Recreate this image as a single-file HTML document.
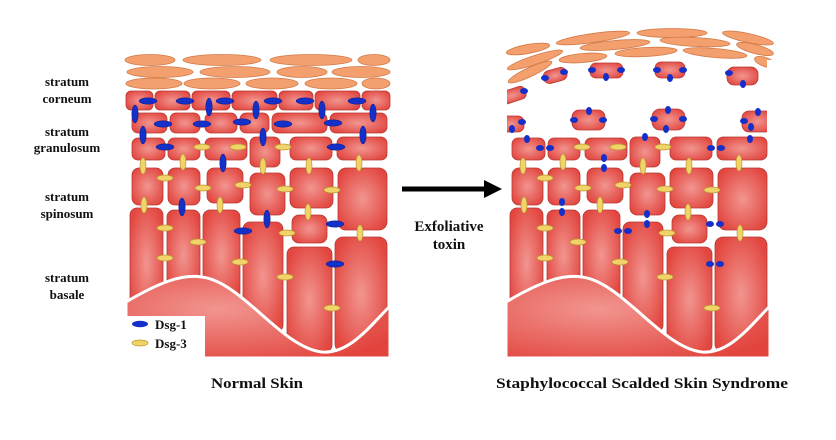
<!DOCTYPE html>
<html><head><meta charset="utf-8"><style>
html,body{margin:0;padding:0;background:#fff;width:836px;height:440px;overflow:hidden}
svg{display:block}
text{font-family:"Liberation Serif",serif;font-weight:bold;fill:#111}
</style></head><body>
<svg width="836" height="440" viewBox="0 0 836 440" xmlns="http://www.w3.org/2000/svg">
<defs>
<radialGradient id="cg" cx="50%" cy="50%" r="60%">
<stop offset="0" stop-color="#f29590"/><stop offset="1" stop-color="#e2463f"/></radialGradient>
<radialGradient id="bg" cx="35%" cy="40%" r="75%">
<stop offset="0" stop-color="#f29590"/><stop offset="1" stop-color="#e2443d"/></radialGradient>
<g id="lower" stroke="#b83a34" stroke-width="0.8" fill="url(#cg)">
<rect x="132" y="138" width="33" height="22" rx="6"/>
<rect x="168" y="138" width="32" height="22" rx="6"/>
<rect x="205" y="138" width="42" height="22" rx="6"/>
<rect x="250" y="137" width="30" height="30" rx="6"/>
<rect x="290" y="137" width="42" height="23" rx="6"/>
<rect x="337" y="137" width="50" height="23" rx="6"/>
<rect x="132" y="168" width="31" height="37" rx="7"/>
<rect x="168" y="168" width="32" height="37" rx="7"/>
<rect x="207" y="168" width="36" height="35" rx="7"/>
<rect x="250" y="173" width="35" height="42" rx="7"/>
<rect x="290" y="168" width="43" height="40" rx="7"/>
<rect x="338" y="168" width="49" height="62" rx="8"/>
<rect x="292" y="215" width="35" height="28" rx="7"/>
<rect x="130" y="208" width="33" height="110" rx="7"/>
<rect x="167" y="210" width="33" height="90" rx="7"/>
<rect x="203" y="210" width="37" height="90" rx="7"/>
<rect x="243" y="222" width="40" height="110" rx="7"/>
<rect x="287" y="247" width="45" height="105" rx="7"/>
<rect x="335" y="237" width="52" height="115" rx="8"/>
<path d="M126,302 C160,282 182,274 202,277 C242,282 282,348 322,352 C350,354 370,326 390,306 L390,358 L126,358 Z" fill="url(#bg)" stroke="#fff" stroke-width="3"/>
</g>
<g id="yel" fill="#f2d36a" stroke="#b89a30" stroke-width="0.7">
<ellipse cx="202" cy="147" rx="8" ry="3"/><ellipse cx="238" cy="147" rx="8" ry="3"/><ellipse cx="283" cy="147" rx="8" ry="3"/>
<ellipse cx="165" cy="178" rx="8" ry="3"/><ellipse cx="203" cy="188" rx="8" ry="3"/><ellipse cx="243" cy="185" rx="8" ry="3"/>
<ellipse cx="285" cy="189" rx="8" ry="3"/><ellipse cx="332" cy="190" rx="8" ry="3"/><ellipse cx="165" cy="228" rx="8" ry="3"/>
<ellipse cx="198" cy="242" rx="8" ry="3"/><ellipse cx="165" cy="258" rx="8" ry="3"/><ellipse cx="240" cy="262" rx="8" ry="3"/>
<ellipse cx="287" cy="233" rx="8" ry="3"/><ellipse cx="285" cy="277" rx="8" ry="3"/><ellipse cx="332" cy="308" rx="8" ry="3"/>
<ellipse cx="143" cy="166" rx="3" ry="8"/><ellipse cx="183" cy="162" rx="3" ry="8"/><ellipse cx="263" cy="166" rx="3" ry="8"/>
<ellipse cx="309" cy="166" rx="3" ry="8"/><ellipse cx="359" cy="163" rx="3" ry="8"/><ellipse cx="144" cy="205" rx="3" ry="8"/>
<ellipse cx="220" cy="205" rx="3" ry="8"/><ellipse cx="308" cy="212" rx="3" ry="8"/><ellipse cx="360" cy="233" rx="3" ry="8"/>
</g>
</defs>

<g fill="#f3a06e" stroke="#d27a48" stroke-width="0.8">
<ellipse cx="150" cy="60" rx="25" ry="5.5"/><ellipse cx="222" cy="60" rx="39" ry="5.5"/><ellipse cx="311" cy="60" rx="41" ry="5.5"/><ellipse cx="374" cy="60" rx="16" ry="5.5"/>
<ellipse cx="160" cy="72" rx="33" ry="5.5"/><ellipse cx="235" cy="72" rx="35" ry="5.5"/><ellipse cx="302" cy="72" rx="25" ry="5.5"/><ellipse cx="361" cy="72" rx="29" ry="5.5"/>
<ellipse cx="154" cy="83.5" rx="28" ry="5.5"/><ellipse cx="212" cy="83.5" rx="28" ry="5.5"/><ellipse cx="272" cy="83.5" rx="26" ry="5.5"/><ellipse cx="331" cy="83.5" rx="26" ry="5.5"/><ellipse cx="376" cy="83.5" rx="14" ry="5.5"/>
</g>
<g stroke="#b83a34" stroke-width="0.8" fill="url(#cg)">
<rect x="126" y="91" width="27" height="19" rx="5"/><rect x="155" y="91" width="35" height="19" rx="5"/><rect x="192" y="91" width="38" height="19" rx="5"/>
<rect x="232" y="91" width="45" height="19" rx="5"/><rect x="279" y="91" width="34" height="19" rx="5"/><rect x="315" y="91" width="45" height="19" rx="5"/><rect x="362" y="91" width="28" height="19" rx="5"/>
<rect x="132" y="113" width="35" height="20" rx="6"/><rect x="170" y="113" width="30" height="20" rx="6"/><rect x="205" y="113" width="32" height="20" rx="6"/>
<rect x="240" y="113" width="29" height="20" rx="6"/><rect x="272" y="113" width="55" height="20" rx="6"/><rect x="330" y="113" width="57" height="20" rx="6"/>
</g>
<use href="#lower"/>
<use href="#yel"/>
<g fill="#1430c8" stroke="#0a1a80" stroke-width="0.5">
<ellipse cx="148" cy="101" rx="9" ry="3.2"/><ellipse cx="185" cy="101" rx="9" ry="3.2"/><ellipse cx="225" cy="101" rx="9" ry="3.2"/>
<ellipse cx="273" cy="101" rx="9" ry="3.2"/><ellipse cx="305" cy="101" rx="9" ry="3.2"/><ellipse cx="357" cy="101" rx="9" ry="3.2"/>
<ellipse cx="163" cy="124" rx="9" ry="3.2"/><ellipse cx="202" cy="124" rx="9" ry="3.2"/><ellipse cx="242" cy="122" rx="9" ry="3.2"/>
<ellipse cx="283" cy="124" rx="9" ry="3.2"/><ellipse cx="333" cy="123" rx="9" ry="3.2"/><ellipse cx="165" cy="147" rx="9" ry="3.2"/>
<ellipse cx="336" cy="147" rx="9" ry="3.2"/><ellipse cx="243" cy="231" rx="9" ry="3.2"/><ellipse cx="335" cy="224" rx="9" ry="3.2"/><ellipse cx="335" cy="264" rx="9" ry="3.2"/>
<ellipse cx="135" cy="114" rx="3.2" ry="9"/><ellipse cx="209" cy="107" rx="3.2" ry="9"/><ellipse cx="256" cy="110" rx="3.2" ry="9"/>
<ellipse cx="322" cy="110" rx="3.2" ry="9"/><ellipse cx="373" cy="113" rx="3.2" ry="9"/><ellipse cx="143" cy="135" rx="3.2" ry="9"/>
<ellipse cx="263" cy="137" rx="3.2" ry="9"/><ellipse cx="363" cy="135" rx="3.2" ry="9"/><ellipse cx="223" cy="163" rx="3.2" ry="9"/>
<ellipse cx="182" cy="207" rx="3.2" ry="9"/><ellipse cx="267" cy="219" rx="3.2" ry="9"/>
</g>
<rect x="126" y="316" width="79" height="44" fill="#fff"/>
<ellipse cx="140" cy="324" rx="8" ry="3.2" fill="#1430c8"/>
<ellipse cx="140" cy="343" rx="8" ry="3" fill="#f2d36a" stroke="#b89a30" stroke-width="0.7"/>
<text x="155" y="329" font-size="13">Dsg-1</text>
<text x="155" y="348" font-size="13">Dsg-3</text>

<g fill="#f3a06e" stroke="#d27a48" stroke-width="0.8">
<ellipse cx="593" cy="38" rx="37" ry="4.5" transform="rotate(-8 593 38)"/>
<ellipse cx="672" cy="33" rx="35" ry="4.5"/>
<ellipse cx="748" cy="38" rx="26" ry="4.5" transform="rotate(12 748 38)"/>
<ellipse cx="528" cy="49" rx="22" ry="4.5" transform="rotate(-10 528 49)"/>
<ellipse cx="615" cy="45" rx="35" ry="4.5" transform="rotate(-5 615 45)"/>
<ellipse cx="695" cy="42" rx="35" ry="4.5" transform="rotate(3 695 42)"/>
<ellipse cx="755" cy="49" rx="19" ry="4.5" transform="rotate(15 755 49)"/>
<ellipse cx="535" cy="60" rx="29" ry="4.5" transform="rotate(-18 535 60)"/>
<ellipse cx="583" cy="58" rx="24" ry="4.5" transform="rotate(-5 583 58)"/>
<ellipse cx="646" cy="52" rx="31" ry="4.5" transform="rotate(-3 646 52)"/>
<ellipse cx="715" cy="53" rx="32" ry="4.5" transform="rotate(5 715 53)"/>
<ellipse cx="765" cy="62" rx="11" ry="4.5" transform="rotate(20 765 62)"/>
<ellipse cx="530" cy="72" rx="24" ry="4.5" transform="rotate(-25 530 72)"/>
</g>
<g stroke="#b83a34" stroke-width="0.8" fill="url(#cg)">
<rect x="543" y="69" width="24" height="13" rx="6" transform="rotate(-15 555 75)"/>
<rect x="590" y="63" width="33" height="15" rx="6"/>
<rect x="655" y="62" width="30" height="16" rx="6"/>
<rect x="727" y="67" width="31" height="18" rx="7"/>
<rect x="498" y="89" width="28" height="13" rx="5" transform="rotate(-18 512 95)"/>
<rect x="572" y="110" width="33" height="20" rx="7"/>
<rect x="652" y="109" width="33" height="21" rx="8"/>
<rect x="742" y="111" width="31" height="21" rx="7"/>
<rect x="498" y="116" width="26" height="16" rx="6"/>
</g>
<rect x="490" y="80" width="17" height="60" fill="#fff"/>
<rect x="767" y="60" width="20" height="80" fill="#fff"/>
<use href="#lower" transform="translate(380,0)"/>
<use href="#yel" transform="translate(380,0)"/>
<g fill="#1430c8">
<ellipse cx="545" cy="78" rx="4" ry="3"/><ellipse cx="564" cy="72" rx="4" ry="3"/>
<ellipse cx="592" cy="70" rx="4" ry="3"/><ellipse cx="621" cy="70" rx="4" ry="3"/><ellipse cx="606" cy="77" rx="3" ry="4"/>
<ellipse cx="657" cy="70" rx="4" ry="3"/><ellipse cx="683" cy="70" rx="4" ry="3"/><ellipse cx="670" cy="78" rx="3" ry="4"/>
<ellipse cx="729" cy="73" rx="4" ry="3"/><ellipse cx="743" cy="84" rx="3" ry="4"/>
<ellipse cx="524" cy="91" rx="4" ry="3"/>
<ellipse cx="574" cy="120" rx="4" ry="3"/><ellipse cx="603" cy="120" rx="4" ry="3"/><ellipse cx="589" cy="111" rx="3" ry="4"/>
<ellipse cx="654" cy="119" rx="4" ry="3"/><ellipse cx="683" cy="119" rx="4" ry="3"/><ellipse cx="668" cy="110" rx="3" ry="4"/><ellipse cx="666" cy="129" rx="3" ry="4"/>
<ellipse cx="744" cy="121" rx="4" ry="3"/><ellipse cx="758" cy="112" rx="3" ry="4"/><ellipse cx="751" cy="127" rx="3" ry="4"/>
<ellipse cx="522" cy="122" rx="4" ry="3"/><ellipse cx="512" cy="129" rx="3" ry="4"/>
<ellipse cx="527" cy="139" rx="3" ry="4"/><ellipse cx="645" cy="137" rx="3" ry="4"/><ellipse cx="750" cy="139" rx="3" ry="4"/>
<ellipse cx="540" cy="148" rx="4" ry="3"/><ellipse cx="550" cy="148" rx="4" ry="3"/>
<ellipse cx="711" cy="148" rx="4" ry="3"/><ellipse cx="721" cy="148" rx="4" ry="3"/>
<ellipse cx="604" cy="158" rx="3" ry="4"/><ellipse cx="604" cy="168" rx="3" ry="4"/>
<ellipse cx="562" cy="202" rx="3" ry="4"/><ellipse cx="562" cy="212" rx="3" ry="4"/>
<ellipse cx="647" cy="214" rx="3" ry="4"/><ellipse cx="647" cy="224" rx="3" ry="4"/>
<ellipse cx="618" cy="231" rx="4" ry="3"/><ellipse cx="628" cy="231" rx="4" ry="3"/>
<ellipse cx="710" cy="224" rx="4" ry="3"/><ellipse cx="720" cy="224" rx="4" ry="3"/>
<ellipse cx="710" cy="264" rx="4" ry="3"/><ellipse cx="720" cy="264" rx="4" ry="3"/>
</g>

<line x1="402" y1="189" x2="490" y2="189" stroke="#000" stroke-width="5"/>
<path d="M484,180 L502,189 L484,198 Z" fill="#000"/>
<text x="449" y="231" font-size="15" text-anchor="middle">Exfoliative</text>
<text x="449" y="249" font-size="15" text-anchor="middle">toxin</text>

<g font-size="13" text-anchor="middle">
<text x="67" y="86">stratum</text><text x="67" y="103">corneum</text>
<text x="67" y="136">stratum</text><text x="67" y="152">granulosum</text>
<text x="67" y="201">stratum</text><text x="67" y="218">spinosum</text>
<text x="67" y="282">stratum</text><text x="67" y="299">basale</text>
</g>
<text x="257" y="388" font-size="15" text-anchor="middle" textLength="92" lengthAdjust="spacingAndGlyphs">Normal Skin</text>
<text x="642" y="388" font-size="15" text-anchor="middle" textLength="292" lengthAdjust="spacingAndGlyphs">Staphylococcal Scalded Skin Syndrome</text>
</svg>
</body></html>
